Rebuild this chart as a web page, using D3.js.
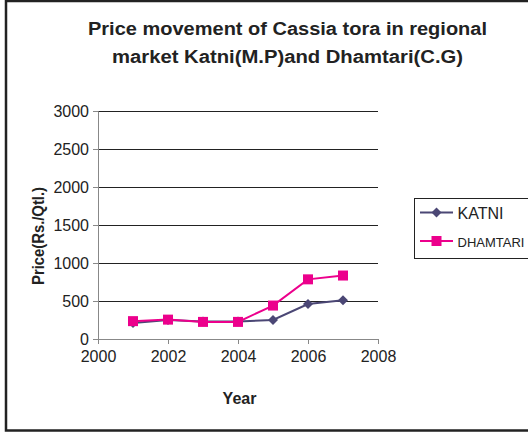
<!DOCTYPE html>
<html><head><meta charset="utf-8">
<script src="https://cdn.jsdelivr.net/npm/d3@7"></script>
<style>body{margin:0;background:#fff}svg{display:block;font-family:"Liberation Sans",Arial,sans-serif}</style>
</head><body><svg id="c" width="528" height="432"></svg>
<script>
const years = [2001, 2002, 2003, 2004, 2005, 2006, 2007];
const katni = [210, 250, 230, 230, 250, 460, 510];
const dhamtari = [235, 255, 225, 225, 440, 785, 835];
const xTicks = [2000, 2002, 2004, 2006, 2008];
const yTicks = [0, 500, 1000, 1500, 2000, 2500, 3000];
const seriesNames = ["KATNI", "DHAMTARI"];
const colors = ["#4B4775", "#EC008C"];

const FONT = "Liberation Sans, Arial, sans-serif";
const svg = d3.select("#c");
// outer border
svg.append("rect").attr("x", 6).attr("y", 1).attr("width", 540).attr("height", 429.5)
  .attr("fill", "none").attr("stroke", "#222").attr("stroke-width", 2.5);

const x = d3.scaleLinear().domain([2000, 2008]).range([98, 378]);
const y = d3.scaleLinear().domain([0, 3000]).range([339, 111]);

// title
svg.append("text").attr("x", 287.5).attr("y", 35).attr("text-anchor", "middle").attr("font-weight", "bold")
  .attr("font-size", 17.5).attr("fill", "#222").attr("textLength", 399).attr("lengthAdjust", "spacingAndGlyphs")
  .text("Price movement of Cassia tora in regional");
svg.append("text").attr("x", 287.5).attr("y", 62.5).attr("text-anchor", "middle").attr("font-weight", "bold")
  .attr("font-size", 17.5).attr("fill", "#222").attr("textLength", 351).attr("lengthAdjust", "spacingAndGlyphs")
  .text("market Katni(M.P)and Dhamtari(C.G)");

// gridlines
svg.append("g").selectAll("line").data(yTicks.filter(d => d > 0)).join("line")
  .attr("x1", x(2000)).attr("x2", x(2008)).attr("y1", d => y(d)).attr("y2", d => y(d))
  .attr("stroke", "#222").attr("stroke-width", 1).attr("shape-rendering", "crispEdges");

// y axis
const yAxis = svg.append("g").attr("transform", `translate(${x(2000)},0)`)
  .call(d3.axisLeft(y).tickValues(yTicks).tickSize(5).tickPadding(4).tickFormat(d3.format("d")));
yAxis.attr("font-size", 16).attr("font-family", FONT);
yAxis.select(".domain").attr("stroke", "#888");
yAxis.selectAll(".tick line").attr("stroke", "#888");
yAxis.selectAll("text").attr("fill", "#222");

// x axis
const xAxis = svg.append("g").attr("transform", `translate(0,${y(0)})`)
  .call(d3.axisBottom(x).tickValues(xTicks).tickSize(5).tickPadding(7).tickFormat(d3.format("d")));
xAxis.attr("font-size", 16).attr("font-family", FONT);
xAxis.select(".domain").attr("stroke", "#888");
xAxis.selectAll(".tick line").attr("stroke", "#888");
xAxis.selectAll("text").attr("fill", "#222");

// axis titles
svg.append("text").attr("x", 239.5).attr("y", 404).attr("text-anchor", "middle")
  .attr("font-weight", "bold").attr("font-size", 16).attr("fill", "#222").text("Year");
svg.append("text").attr("transform", "translate(44,236) rotate(-90)").attr("text-anchor", "middle")
  .attr("font-weight", "bold").attr("font-size", 17).attr("fill", "#222")
  .attr("textLength", 98).attr("lengthAdjust", "spacingAndGlyphs").text("Price(Rs./Qtl.)");

const line = d3.line().x((d, i) => x(years[i])).y(d => y(d));
const data = [katni, dhamtari];

function marker(g, type, cx, cy, color) {
  if (type === 0) {
    g.append("path").attr("d", `M${cx},${cy-5}L${cx+5},${cy}L${cx},${cy+5}L${cx-5},${cy}Z`).attr("fill", color);
  } else {
    g.append("rect").attr("x", cx - 5).attr("y", cy - 5).attr("width", 10).attr("height", 10).attr("fill", color);
  }
}

data.forEach((s, k) => {
  svg.append("path").datum(s).attr("d", line).attr("fill", "none")
    .attr("stroke", colors[k]).attr("stroke-width", 2);
});
data.forEach((s, k) => {
  const g = svg.append("g");
  s.forEach((v, i) => marker(g, k, x(years[i]), y(v), colors[k]));
});

// legend
svg.append("rect").attr("x", 414.5).attr("y", 198.5).attr("width", 130).attr("height", 60)
  .attr("fill", "#fff").attr("stroke", "#222").attr("stroke-width", 1);
const legY = [212.5, 241];
const legFont = [16, 13];
seriesNames.forEach((n, k) => {
  const ly = legY[k];
  const g = svg.append("g");
  g.append("line").attr("x1", 420).attr("x2", 453).attr("y1", ly).attr("y2", ly)
    .attr("stroke", colors[k]).attr("stroke-width", 2);
  marker(g, k, 436.5, ly, colors[k]);
  g.append("text").attr("x", 457.5).attr("y", ly + (k === 0 ? 6.5 : 5.5)).attr("font-size", legFont[k])
    .attr("fill", "#222").text(n);
});
</script></body></html>
